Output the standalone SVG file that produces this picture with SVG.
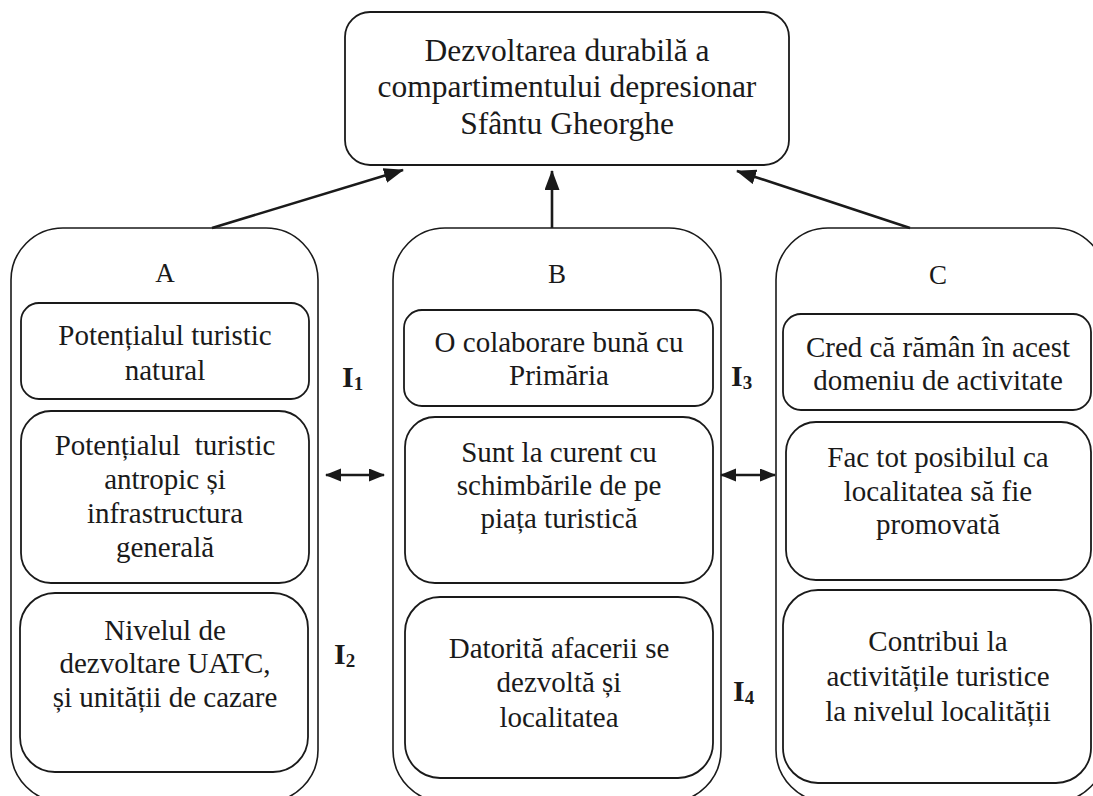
<svg xmlns="http://www.w3.org/2000/svg" width="1093" height="796" viewBox="0 0 1093 796">
<style>
.box{fill:#fff;stroke:#1a1a1a;stroke-width:1.8}
.cont{fill:none;stroke:#1a1a1a;stroke-width:1.6}
.conn{stroke:#1a1a1a;stroke-width:2.6;fill:none}
</style>
<defs>
<marker id="ah" markerUnits="userSpaceOnUse" markerWidth="20" markerHeight="16" refX="19" refY="7.5" orient="auto"><path d="M0,0 L20,7.5 L0,15 z" fill="#1a1a1a"/></marker>
<marker id="ah2" markerUnits="userSpaceOnUse" markerWidth="16" markerHeight="14" refX="15" refY="6.5" orient="auto-start-reverse"><path d="M0,0 L16,6.5 L0,13 z" fill="#1a1a1a"/></marker>
</defs>

<g id="goal">
<rect class="box" x="345" y="12" width="444" height="153" rx="25"/>
<g font-family="Liberation Serif" font-size="31.5" text-anchor="middle" fill="#1a1a1a">
<text x="567" y="61">Dezvoltarea durabilă a</text>
<text x="567" y="97">compartimentului depresionar</text>
<text x="567" y="134">Sfântu Gheorghe</text>
</g>
</g>

<g id="groupA">
<rect class="cont" x="11" y="228" width="307" height="574" rx="52"/>
<text x="165" y="282" font-family="Liberation Serif" font-size="27" text-anchor="middle" fill="#1a1a1a">A</text>
</g>
<g id="A1">
<rect class="box" x="21" y="303" width="288" height="96" rx="18"/>
<g font-family="Liberation Serif" font-size="29" text-anchor="middle" fill="#1a1a1a">
<text x="165" y="345">Potențialul turistic</text>
<text x="165" y="380">natural</text>
</g>
</g>
<g id="A2">
<rect class="box" x="21" y="411" width="288" height="172" rx="30"/>
<g font-family="Liberation Serif" font-size="29" text-anchor="middle" fill="#1a1a1a">
<text x="165" y="455" xml:space="preserve">Potențialul  turistic</text>
<text x="165" y="489">antropic și</text>
<text x="165" y="523">infrastructura</text>
<text x="165" y="557">generală</text>
</g>
</g>
<g id="A3">
<rect class="box" x="20" y="593" width="288" height="179" rx="35"/>
<g font-family="Liberation Serif" font-size="29" text-anchor="middle" fill="#1a1a1a">
<text x="165" y="640">Nivelul de</text>
<text x="165" y="673">dezvoltare UATC,</text>
<text x="165" y="707">și unității de cazare</text>
</g>
</g>

<g id="groupB">
<rect class="cont" x="393" y="228" width="328" height="574" rx="52"/>
<text x="557" y="283" font-family="Liberation Serif" font-size="27" text-anchor="middle" fill="#1a1a1a">B</text>
</g>
<g id="B1">
<rect class="box" x="404" y="310" width="309" height="96" rx="18"/>
<g font-family="Liberation Serif" font-size="29" text-anchor="middle" fill="#1a1a1a">
<text x="559" y="352">O colaborare bună cu</text>
<text x="559" y="385">Primăria</text>
</g>
</g>
<g id="B2">
<rect class="box" x="405" y="417" width="308" height="166" rx="30"/>
<g font-family="Liberation Serif" font-size="29" text-anchor="middle" fill="#1a1a1a">
<text x="559" y="462">Sunt la curent cu</text>
<text x="559" y="495">schimbările de pe</text>
<text x="559" y="528">piața turistică</text>
</g>
</g>
<g id="B3">
<rect class="box" x="405" y="597" width="308" height="181" rx="35"/>
<g font-family="Liberation Serif" font-size="29" text-anchor="middle" fill="#1a1a1a">
<text x="559" y="658">Datorită afacerii se</text>
<text x="559" y="692">dezvoltă și</text>
<text x="559" y="727">localitatea</text>
</g>
</g>

<g id="groupC">
<rect class="cont" x="776" y="228" width="330" height="574" rx="52"/>
<text x="938" y="284" font-family="Liberation Serif" font-size="27" text-anchor="middle" fill="#1a1a1a">C</text>
</g>
<g id="C1">
<rect class="box" x="783" y="314" width="308" height="96" rx="18"/>
<g font-family="Liberation Serif" font-size="29" text-anchor="middle" fill="#1a1a1a">
<text x="938" y="357">Cred că rămân în acest</text>
<text x="938" y="390">domeniu de activitate</text>
</g>
</g>
<g id="C2">
<rect class="box" x="786" y="422" width="305" height="158" rx="30"/>
<g font-family="Liberation Serif" font-size="29" text-anchor="middle" fill="#1a1a1a">
<text x="938" y="467">Fac tot posibilul ca</text>
<text x="938" y="501">localitatea să fie</text>
<text x="938" y="534">promovată</text>
</g>
</g>
<g id="C3">
<rect class="box" x="783" y="590" width="308" height="193" rx="35"/>
<g font-family="Liberation Serif" font-size="29" text-anchor="middle" fill="#1a1a1a">
<text x="938" y="651">Contribui la</text>
<text x="938" y="686">activitățile turistice</text>
<text x="938" y="721">la nivelul localității</text>
</g>
</g>

<g id="labels" font-family="Liberation Serif" font-size="30" font-weight="bold" fill="#1a1a1a">
<text x="342" y="387">I<tspan font-size="19" dy="3">1</tspan></text>
<text x="334" y="664">I<tspan font-size="19" dy="3">2</tspan></text>
<text x="731" y="386">I<tspan font-size="19" dy="3">3</tspan></text>
<text x="733" y="701">I<tspan font-size="19" dy="3">4</tspan></text>
</g>

<g id="connectors">
<line class="conn" x1="212" y1="228" x2="403" y2="170" marker-end="url(#ah)"/>
<line class="conn" x1="552" y1="228" x2="552" y2="171" marker-end="url(#ah)"/>
<line class="conn" x1="910" y1="228" x2="737" y2="171" marker-end="url(#ah)"/>
<line class="conn" x1="326" y1="475" x2="384" y2="475" marker-start="url(#ah2)" marker-end="url(#ah2)"/>
<line class="conn" x1="721" y1="475" x2="775" y2="475" marker-start="url(#ah2)" marker-end="url(#ah2)"/>
</g>
</svg>
